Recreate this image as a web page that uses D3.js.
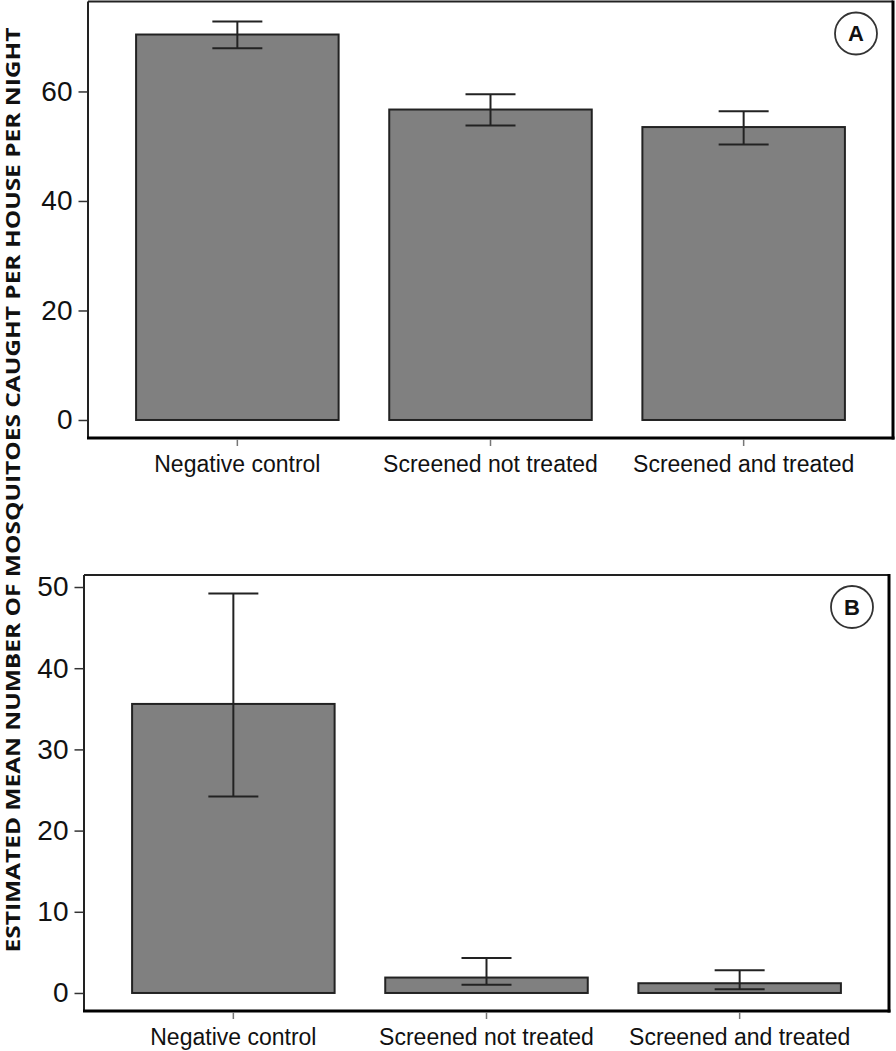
<!DOCTYPE html>
<html>
<head>
<meta charset="utf-8">
<script src="https://cdn.jsdelivr.net/npm/d3@7"></script>
<style>
  html, body { margin: 0; padding: 0; background: #fff; }
  svg { display: block; }
</style>
</head>
<body>
<svg id="chart" width="896" height="1051"></svg>
<script>
// ---- data ----
const categories = ["Negative control", "Screened not treated", "Screened and treated"];
const meansA = [70.4, 56.7, 53.5];
const lowerA = [67.9, 53.8, 50.3];
const upperA = [72.8, 59.5, 56.4];
const ticksA = [0, 20, 40, 60];
const meansB = [35.6, 1.9, 1.2];
const lowerB = [24.2, 1.0, 0.46];
const upperB = [49.2, 4.3, 2.8];
const ticksB = [0, 10, 20, 30, 40, 50];
const panelLabels = ["A", "B"];
const yTitle = "ESTIMATED MEAN NUMBER OF MOSQUITOES CAUGHT PER HOUSE PER NIGHT";

const svg = d3.select("#chart");

const panels = [
  { label: panelLabels[0], means: meansA, lower: lowerA, upper: upperA, ticks: ticksA,
    left: 88, right: 893, top: 1.5, bottom: 438, ymin: -3.29, ymax: 76.43 },
  { label: panelLabels[1], means: meansB, lower: lowerB, upper: upperB, ticks: ticksB,
    left: 84, right: 889, top: 575, bottom: 1011, ymin: -2.22, ymax: 51.48 }
];

panels.forEach(p => {
  const g = svg.append("g");
  const x = d3.scaleBand().domain(categories).range([p.left, p.right])
    .paddingInner(0.2).paddingOuter(0.19);
  const y = d3.scaleLinear().domain([p.ymin, p.ymax]).range([p.bottom, p.top]);

  // frame: thin top/left, heavier right/bottom
  g.append("line").attr("x1", p.left).attr("x2", p.right).attr("y1", p.top).attr("y2", p.top)
    .attr("stroke", "#222").attr("stroke-width", 2);
  g.append("line").attr("x1", p.left).attr("x2", p.left).attr("y1", p.top).attr("y2", p.bottom)
    .attr("stroke", "#222").attr("stroke-width", 2);
  g.append("line").attr("x1", p.right).attr("x2", p.right).attr("y1", p.top - 1).attr("y2", p.bottom + 1.5)
    .attr("stroke", "#000").attr("stroke-width", 3);
  g.append("line").attr("x1", p.left - 1).attr("x2", p.right + 1.5).attr("y1", p.bottom).attr("y2", p.bottom)
    .attr("stroke", "#000").attr("stroke-width", 3);

  // y axis
  const yAxis = d3.axisLeft(y).tickValues(p.ticks).tickSize(9).tickPadding(6).tickFormat(d3.format("d"));
  const ya = g.append("g").attr("transform", `translate(${p.left - 0.5},0)`).call(yAxis);
  ya.select(".domain").remove();
  ya.selectAll(".tick line").attr("stroke", "#333").attr("stroke-width", 1.5);
  ya.selectAll(".tick text").attr("font-family", "'Liberation Sans', Arial, sans-serif")
    .attr("font-size", 28).attr("fill", "#111");

  // x axis
  const xAxis = d3.axisBottom(x).tickSize(7);
  const xa = g.append("g").attr("transform", `translate(0,${p.bottom + 1})`).call(xAxis);
  xa.select(".domain").remove();
  xa.selectAll(".tick line").attr("stroke", "#777").attr("stroke-width", 1.5);
  xa.selectAll(".tick text")
    .attr("y", 33).attr("dy", null)
    .attr("font-family", "'Liberation Sans', Arial, sans-serif")
    .attr("font-size", 23).attr("fill", "#111");

  // bars
  g.selectAll("rect.bar").data(categories).enter().append("rect")
    .attr("class", "bar")
    .attr("x", d => x(d))
    .attr("width", x.bandwidth())
    .attr("y", (d, i) => y(p.means[i]))
    .attr("height", (d, i) => y(0) - y(p.means[i]))
    .attr("fill", "#808080").attr("stroke", "#222").attr("stroke-width", 2);

  // error bars
  const capHalf = 25;
  const eb = g.selectAll("g.err").data(categories).enter().append("g").attr("class", "err");
  eb.append("line")
    .attr("x1", d => x(d) + x.bandwidth() / 2).attr("x2", d => x(d) + x.bandwidth() / 2)
    .attr("y1", (d, i) => y(p.lower[i])).attr("y2", (d, i) => y(p.upper[i]))
    .attr("stroke", "#222").attr("stroke-width", 2);
  eb.append("line")
    .attr("x1", d => x(d) + x.bandwidth() / 2 - capHalf).attr("x2", d => x(d) + x.bandwidth() / 2 + capHalf)
    .attr("y1", (d, i) => y(p.upper[i])).attr("y2", (d, i) => y(p.upper[i]))
    .attr("stroke", "#222").attr("stroke-width", 2);
  eb.append("line")
    .attr("x1", d => x(d) + x.bandwidth() / 2 - capHalf).attr("x2", d => x(d) + x.bandwidth() / 2 + capHalf)
    .attr("y1", (d, i) => y(p.lower[i])).attr("y2", (d, i) => y(p.lower[i]))
    .attr("stroke", "#222").attr("stroke-width", 2);

  // panel label
  const cx = p.right - 37, cy = p.top + 32;
  g.append("circle").attr("cx", cx).attr("cy", cy).attr("r", 21)
    .attr("fill", "#fff").attr("stroke", "#333").attr("stroke-width", 1.8);
  g.append("text").attr("x", cx).attr("y", cy).attr("dy", "0.36em")
    .attr("text-anchor", "middle")
    .attr("font-family", "'Liberation Sans', Arial, sans-serif").attr("font-weight", "bold")
    .attr("font-size", 22).attr("fill", "#111").text(p.label);
});

// shared y title
svg.append("text")
  .attr("transform", "translate(20,490) rotate(-90)")
  .attr("text-anchor", "middle")
  .attr("font-family", "'Open Sans', 'DejaVu Sans', sans-serif")
  .attr("font-weight", "bold")
  .attr("font-size", 20)
  .attr("textLength", 925)
  .attr("lengthAdjust", "spacingAndGlyphs")
  .attr("fill", "#111")
  .text(yTitle);
</script>
</body>
</html>
